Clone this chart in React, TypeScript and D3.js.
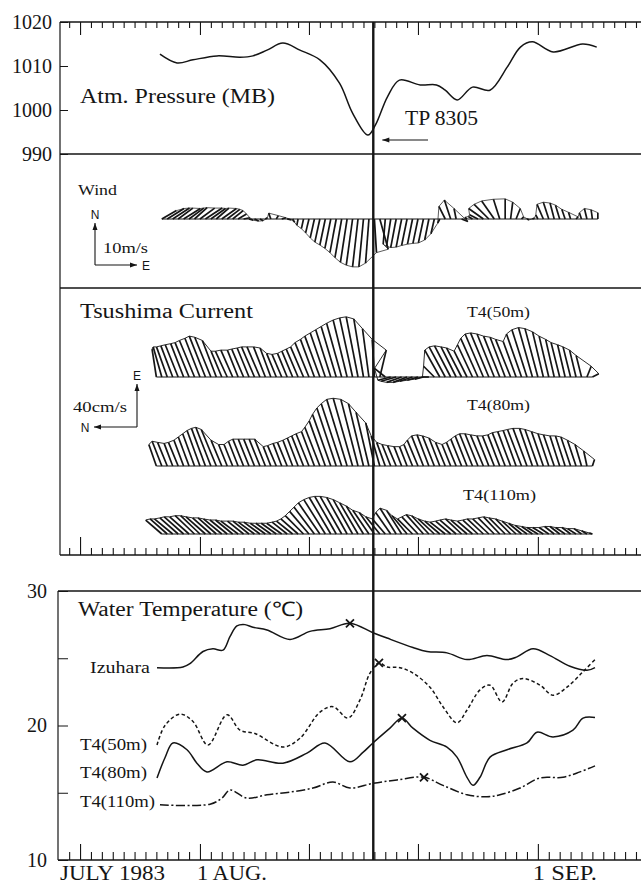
import React, { useEffect, useRef } from 'react';
import * as d3 from 'd3';

// time axis: day number counted from 1 July 1983 (1 Aug = 32, 1 Sep = 63)
const majorDays = [21, 32, 42, 52, 63, 73];
const dateLabels = ['JULY 1983', '1 AUG.', '1 SEP.'];
const dateLabelDays = [19.16, 32, 63];
const typhoonDay = 47.9;

// atmospheric pressure (MB)
const pressureTicks = [990, 1000, 1010, 1020];
const pressureDays = [28.33, 29.9, 31.36, 33.56, 35.67, 36.86, 38.15, 39.6, 41.17, 43.0, 44.8, 46.0, 47.4, 48.1, 49.2, 50.3, 52.2, 53.7, 54.5, 55.6, 57.0, 58.6, 60.2, 61.4, 62.5, 64.4, 67.1, 68.4];
const pressureMb = [1012.7, 1010.7, 1011.4, 1012.3, 1012.0, 1012.3, 1013.6, 1015.2, 1013.6, 1011.4, 1006.1, 999.3, 994.3, 996.6, 1003.0, 1006.8, 1005.7, 1005.7, 1004.5, 1002.3, 1005.2, 1004.5, 1009.8, 1014.3, 1015.5, 1013.2, 1015.0, 1014.3];

// wind sticks (m/s), every half day from day 28.5
const windStart = 28.5;
const windEast = [3.5, 4, 4, 3.5, 4, 3.5, 3, 3.5, 4, 3.5, 3, 3.5, 3, 2.5, 2, 1.5, 1, 1, 0.8, 0.5, -0.5, 0.5, 1, 1, 0.5, -0.3, -0.5, -0.8, -1, -1.2, -1.3, -1.4, -1.5, -1.6, -1.6, -1.5, -1.3, -1.1, -0.8, 0.5, 2, -0.5, -1, -1.3, -1.3, -1.3, -1.2, -1.2, -1.2, -1, -0.8, -0.5, -1.5, -1.5, -0.5, 1.5, -0.5, -1, -2, -3.5, -3.5, -3, -1.5, 0, 0.5, 1, 0.5, 0.5, 0.5, -0.5, -1.5, -1.3, -1, -1, -0.8, -0.5, 0.5, -0.5, -0.6, -0.3, 0];
const windNorth = [2.0, 2.5, 2.6, 2.6, 2.5, 2.6, 2.7, 2.6, 2.6, 2.5, 2.6, 2.5, 2.3, 2.0, 1.2, 0.3, -0.3, -0.5, -0.4, 0.3, 1.4, 0.8, 0.3, -0.2, -0.8, -1.5, -2.3, -3.3, -4.5, -5.5, -6.2, -7.0, -8.0, -9.2, -10.3, -11.0, -11.4, -11.4, -10.5, -8.0, -7.2, -6.0, -6.5, -6.8, -6.7, -6.3, -6.0, -5.8, -5.7, -5.0, -3.5, -1.0, 3.0, 4.5, 2.5, -0.6, 0.4, 0.6, 1.0, 2.5, 3.5, 4.3, 4.7, 4.8, 4.0, 2.5, 0.5, -0.2, 0.2, 1.0, 3.5, 4.0, 3.8, 3.3, 2.3, 1.6, 0.5, 1.5, 2.5, 2.2, 1.5];

// Tsushima Current sticks at T4 (cm/s), every half day
const c50Start = 28;
const c50East = [26, 28, 28, 29, 30, 31, 32, 34, 36, 38, 37, 34, 24, 24, 25, 25, 26, 27, 28, 28, 28, 27, 22, 21, 22, 24, 26, 28, 32, 35, 38, 41, 44, 47, 50, 53, 55, 56, 54, 45, 35, 25, 8, -3, -4, -5, -5, -4, -3, -2, 0, 10, 25, 28, 29, 28, 27, 24, 30, 36, 40, 41, 40, 38, 37, 35, 33, 40, 44, 46, 45, 42, 38, 35, 32, 30, 28, 25, 20, 10, 3];
const c50North = [4, 8, 10, 11, 12, 12, 13, 14, 14, 15, 15, 13, 10, 11, 11, 10, 11, 11, 12, 12, 11, 10, 9, 9, 9, 10, 11, 12, 13, 13, 14, 14, 14, 14, 14, 13, 12, 11, 9, 6, 2, -6, 10, 12, 14, 14, 13, 12, 10, 8, 6, 10, 14, 15, 15, 14, 14, 12, 14, 16, 17, 17, 16, 15, 14, 14, 12, 14, 14, 13, 12, 10, 9, 8, 8, 7, 7, 6, 5, -4, -6];
const c80Start = 28;
const c80East = [20, 23, 22, 21, 22, 24, 27, 30, 33, 35, 36, 34, 24, 20, 20, 23, 25, 25, 25, 25, 25, 18, 19, 21, 22, 24, 26, 28, 30, 32, 36, 42, 48, 54, 58, 62, 63, 62, 58, 50, 40, 28, 22, 20, 19, 18, 18, 20, 24, 28, 29, 28, 26, 22, 20, 22, 25, 28, 30, 30, 29, 28, 28, 29, 31, 32, 33, 34, 35, 35, 34, 32, 30, 29, 28, 28, 27, 24, 20, 14, 6];
const c80North = [7, 9, 9, 8, 9, 9, 10, 11, 12, 13, 14, 14, 10, 8, 8, 9, 10, 10, 10, 10, 10, 7, 8, 8, 9, 9, 10, 11, 12, 12, 14, 15, 17, 18, 19, 19, 18, 16, 14, 12, 8, 8, 8, 8, 8, 7, 7, 8, 10, 11, 11, 11, 10, 9, 8, 9, 10, 11, 12, 12, 12, 11, 11, 11, 12, 12, 12, 13, 13, 12, 12, 11, 10, 10, 9, 9, 9, 8, 6, 3, -2];
const c110Start = 28.5;
const c110East = [13, 14, 14, 15, 16, 16, 17, 17, 16, 15, 15, 14, 13, 13, 12, 12, 12, 11, 11, 10, 10, 10, 10, 11, 12, 14, 17, 21, 25, 29, 32, 34, 35, 35, 34, 32, 29, 26, 22, 20, 16, 14, 20, 24, 22, 17, 14, 16, 18, 17, 14, 12, 11, 12, 13, 14, 13, 12, 13, 14, 14, 15, 16, 15, 14, 12, 10, 8, 7, 6, 6, 6, 7, 7, 6, 6, 5, 5, 3, 1];
const c110North = [15, 16, 17, 17, 18, 18, 18, 18, 18, 17, 17, 17, 16, 16, 16, 15, 15, 15, 15, 14, 14, 14, 14, 14, 15, 16, 17, 18, 19, 20, 20, 20, 20, 20, 19, 18, 17, 16, 15, 14, 13, 12, 14, 15, 14, 14, 14, 15, 16, 16, 15, 14, 14, 14, 15, 15, 15, 14, 14, 15, 15, 15, 15, 15, 14, 13, 12, 11, 10, 10, 10, 9, 9, 9, 9, 8, 8, 7, 5, 3];

// water temperature (deg C)
const tempTicks = [10, 15, 20, 25, 30];
const izuharaDays = [28.06, 30.44, 31.08, 32.28, 33.19, 34.11, 34.75, 35.39, 36.13, 36.86, 38.15, 40.26, 42.09, 43.93, 45.76, 47.87, 49.16, 51.54, 52.83, 54.66, 56.5, 58.33, 60.17, 61.08, 62.55, 64.11, 65.94, 67.5, 68.24];
const izuharaTemp = [24.3, 24.35, 24.6, 25.5, 25.7, 25.6, 26.6, 27.4, 27.5, 27.3, 27.1, 26.4, 27.0, 27.2, 27.6, 26.9, 26.5, 25.8, 25.5, 25.4, 24.9, 25.2, 24.9, 25.1, 25.7, 25.2, 24.4, 24.1, 24.3];
const t50Days = [28.06, 28.79, 30.17, 31.36, 32.73, 34.48, 35.67, 37.05, 39.61, 41.17, 43.01, 44.2, 45.58, 46.68, 47.6, 48.42, 49.16, 50.35, 51.54, 53.1, 54.29, 55.58, 56.5, 57.69, 58.61, 59.71, 60.72, 61.63, 63.19, 64.39, 65.67, 67.14, 68.24];
const t50Temp = [18.55, 20.0, 20.85, 20.3, 18.55, 20.8, 19.65, 19.4, 18.4, 19.05, 21.0, 21.4, 20.55, 21.9, 23.9, 24.65, 24.35, 24.3, 23.9, 22.85, 21.4, 20.2, 21.15, 22.65, 23.0, 21.75, 23.15, 23.5, 23.0, 22.25, 22.85, 24.0, 24.9];
const t80Days = [28.06, 28.79, 29.52, 30.81, 31.72, 32.64, 34.48, 35.94, 37.23, 39.61, 41.82, 43.47, 45.76, 46.95, 47.87, 49.43, 50.53, 51.54, 53.1, 54.66, 55.58, 56.5, 57.05, 57.69, 58.61, 60.17, 62.0, 62.92, 64.39, 66.22, 67.14, 68.24];
const t80Temp = [16.1, 17.6, 18.7, 18.2, 17.2, 16.55, 17.3, 17.05, 17.45, 17.2, 17.95, 18.7, 17.3, 18.0, 18.7, 19.8, 20.55, 19.8, 18.9, 18.4, 17.65, 16.15, 15.55, 16.15, 17.65, 18.2, 18.7, 19.5, 19.15, 19.65, 20.55, 20.6];
const t110Days = [28.33, 32.92, 34.02, 34.75, 36.31, 38.15, 40.26, 42.37, 44.2, 45.76, 47.87, 50.07, 52.55, 54.29, 56.5, 58.33, 59.52, 61.36, 63.19, 65.3, 66.86, 68.24];
const t110Temp = [14.1, 14.15, 14.6, 15.2, 14.6, 14.85, 15.05, 15.35, 15.8, 15.35, 15.7, 15.95, 16.15, 15.55, 14.85, 14.7, 14.85, 15.35, 16.1, 16.15, 16.55, 17.0];
const maxDays = [45.76, 48.42, 50.53, 52.55];
const maxTemps = [27.6, 24.65, 20.55, 16.15];

export default function App() {
    const ref = useRef<SVGSVGElement>(null);

    useEffect(() => {
        const svg = d3.select(ref.current);
        svg.selectAll('*').remove();
        const ink = '#151515';
        const serif = 'Liberation Serif, Times New Roman, serif';
        const sans = 'Liberation Sans, Arial, sans-serif';

        // scales
        const x = d3.scaleLinear().domain([19.16, 72.46]).range([60, 641]);
        const yP = d3.scaleLinear().domain([990, 1020]).range([154, 22]);
        const yT = d3.scaleLinear().domain([10, 30]).range([860, 591]);
        const windLen = d3.scaleLinear().domain([0, 10]).range([0, 42]);
        const curLen = d3.scaleLinear().domain([0, 40]).range([0, 43]);
        const allDays = d3.range(20, 73);
        const minorDays = allDays.filter(d => !majorDays.includes(d));

        const text = (s: string, px: number, py: number, size: number, width?: number, family = serif, anchor = 'start') => {
            const t = svg.append('text')
                .attr('x', px).attr('y', py)
                .style('font-family', family).style('font-size', size + 'px')
                .attr('fill', ink).attr('text-anchor', anchor)
                .text(s);
            if (width) t.attr('textLength', width).attr('lengthAdjust', 'spacingAndGlyphs');
            return t;
        };
        const line = (x1: number, y1: number, x2: number, y2: number, w = 1.4) =>
            svg.append('line').attr('x1', x1).attr('y1', y1).attr('x2', x2).attr('y2', y2)
                .attr('stroke', ink).attr('stroke-width', w);
        const arrow = (x1: number, y1: number, x2: number, y2: number) => {
            line(x1, y1, x2, y2, 1.1);
            const a = Math.atan2(y2 - y1, x2 - x1);
            const p = [[x2, y2], [x2 - 7 * Math.cos(a) + 2.5 * Math.sin(a), y2 - 7 * Math.sin(a) - 2.5 * Math.cos(a)],
                [x2 - 7 * Math.cos(a) - 2.5 * Math.sin(a), y2 - 7 * Math.sin(a) + 2.5 * Math.cos(a)]];
            svg.append('path').attr('d', 'M' + p.join('L') + 'Z').attr('fill', ink);
        };

        // day ticks along a horizontal border
        const dayTicks = (y: number, down: boolean, minor: number, major: number) => {
            const make = down ? d3.axisBottom(x) : d3.axisTop(x);
            [[minorDays, minor], [majorDays, major]].forEach(([vals, size]: any) => {
                const g = svg.append('g').attr('transform', 'translate(0,' + y + ')')
                    .call(make.tickValues(vals).tickSize(size).tickFormat(() => ''));
                g.select('.domain').remove();
                g.selectAll('line').attr('stroke', ink).attr('stroke-width', 1.1);
            });
        };

        // frame of the upper block
        line(60, 22, 641, 22);
        line(60, 154, 641, 154);
        line(60, 288, 641, 288);
        line(60, 555, 641, 555);
        line(60, 22, 60, 555, 1.2);
        dayTicks(22, true, 6, 13);
        dayTicks(555, false, 7, 18);

        // frame of the temperature panel
        line(58, 591, 641, 591);
        line(58, 860, 641, 860);
        line(58, 591, 58, 860, 1.2);
        dayTicks(860, false, 8, 16);

        // pressure axis
        const gp = svg.append('g').attr('transform', 'translate(60,0)')
            .call(d3.axisLeft(yP).tickValues(pressureTicks).tickSize(-8).tickPadding(8).tickFormat(d3.format('d')));
        gp.select('.domain').remove();
        gp.attr('font-family', null).attr('font-size', null);
        gp.selectAll('line').attr('stroke', ink);
        gp.selectAll('text').style('font-family', serif).style('font-size', '20px').attr('fill', ink);

        // temperature axis
        const gt = svg.append('g').attr('transform', 'translate(58,0)')
            .call(d3.axisLeft(yT).tickValues(tempTicks).tickSize(-10).tickPadding(11)
                .tickFormat((d: any) => (d % 10 === 0 ? String(d) : '')));
        gt.select('.domain').remove();
        gt.attr('font-family', null).attr('font-size', null);
        gt.selectAll('line').attr('stroke', ink);
        gt.selectAll('text').style('font-family', serif).style('font-size', '20px').attr('fill', ink);

        // pressure curve
        const pLine = d3.line<number>()
            .x((d, i) => x(pressureDays[i]))
            .y(d => yP(d))
            .curve(d3.curveCatmullRom.alpha(0.5));
        svg.append('path').attr('d', pLine(pressureMb)).attr('fill', 'none')
            .attr('stroke', ink).attr('stroke-width', 1.5);
        text('Atm. Pressure (MB)', 80, 103, 20, 195);
        text('TP 8305', 405, 125, 20, 73);
        arrow(428, 140, x(typhoonDay) + 9, 140);

        // stick plots
        const sticks = (start: number, a: number[], b: number[], base: number,
            tip: (bx: number, a: number, b: number) => [number, number], w: number, env: number) => {
            const pts = a.map((v, i) => {
                const bx = x(start + i * 0.5);
                const [tx, ty] = tip(bx, v, b[i]);
                return { bx, tx, ty };
            });
            const g = svg.append('g');
            g.selectAll('line').data(pts).join('line')
                .attr('x1', p => p.bx).attr('y1', base)
                .attr('x2', p => p.tx).attr('y2', p => p.ty)
                .attr('stroke', ink).attr('stroke-width', w);
            g.append('path').attr('d', d3.line()(pts.map(p => [p.tx, p.ty] as [number, number])))
                .attr('fill', 'none').attr('stroke', ink).attr('stroke-width', env);
            g.append('line').attr('x1', pts[0].bx).attr('x2', pts[pts.length - 1].bx)
                .attr('y1', base).attr('y2', base).attr('stroke', ink).attr('stroke-width', 1);
        };

        // wind: east to the right, north up
        const windBase = 219;
        sticks(windStart, windEast, windNorth, windBase,
            (bx, e, n) => [bx + windLen(e), windBase - windLen(n)], 1.7, 0.7);
        text('Wind', 78, 195, 15, 39);
        arrow(95, 265, 95, 265 - windLen(10));
        arrow(95, 265, 95 + windLen(10), 265);
        text('N', 95, 219, 12, undefined, sans, 'middle');
        text('E', 142, 270, 12, undefined, sans, 'start');
        text('10m/s', 103, 253, 15, 45);

        // current: east up, north to the left
        const bases = [377, 466, 534];
        sticks(c50Start, c50East, c50North, bases[0], (bx, e, n) => [bx - curLen(n), bases[0] - curLen(e)], 1.7, 0.9);
        sticks(c80Start, c80East, c80North, bases[1], (bx, e, n) => [bx - curLen(n), bases[1] - curLen(e)], 1.7, 0.9);
        sticks(c110Start, c110East, c110North, bases[2], (bx, e, n) => [bx - curLen(n), bases[2] - curLen(e)], 1.7, 0.9);
        text('Tsushima Current', 80, 318, 20, 173);
        text('T4(50m)', 467, 317, 15, 63);
        text('T4(80m)', 467, 410, 15, 63);
        text('T4(110m)', 463, 500, 15, 73);
        arrow(137, 427, 137, 427 - curLen(40));
        arrow(137, 427, 137 - curLen(40), 427);
        text('E', 137, 380, 12, undefined, sans, 'middle');
        text('N', 85, 432, 12, undefined, sans, 'middle');
        text('40cm/s', 73, 412, 15, 54);

        // temperature curves
        const tLine = (days: number[], temps: number[], dash: string | null) => {
            const l = d3.line<number>().x((d, i) => x(days[i])).y(d => yT(d)).curve(d3.curveCatmullRom.alpha(0.5));
            const p = svg.append('path').attr('d', l(temps)).attr('fill', 'none')
                .attr('stroke', ink).attr('stroke-width', 1.5);
            if (dash) p.attr('stroke-dasharray', dash);
        };
        tLine(izuharaDays, izuharaTemp, null);
        tLine(t50Days, t50Temp, '3.5,2.5');
        tLine(t80Days, t80Temp, null);
        tLine(t110Days, t110Temp, '9,2.5,2,2.5');
        svg.append('g').selectAll('path').data(maxTemps).join('path')
            .attr('transform', (d, i) => 'translate(' + x(maxDays[i]) + ',' + yT(d) + ')')
            .attr('d', 'M-4,-4L4,4M-4,4L4,-4')
            .attr('stroke', ink).attr('stroke-width', 1.8);
        text('Water Temperature (℃)', 78, 616, 20, 225);
        text('Izuhara', 90, 673, 17, 60);
        text('T4(50m)', 80, 750, 16, 67);
        text('T4(80m)', 80, 778, 16, 67);
        text('T4(110m)', 80, 807, 16, 75);

        // typhoon passage
        line(x(typhoonDay), 22, x(typhoonDay), 860, 2.4);

        // date labels
        text(dateLabels[0], x(dateLabelDays[0]), 880, 20, 105);
        text(dateLabels[1], x(dateLabelDays[1]) - 3, 880, 20, 70);
        text(dateLabels[2], x(dateLabelDays[2]) - 5, 880, 20, 64);
    }, []);

    return (
        <svg ref={ref} width={641} height={886}
            style={{ position: 'absolute', left: 0, top: 0, background: '#fff' }} />
    );
}
